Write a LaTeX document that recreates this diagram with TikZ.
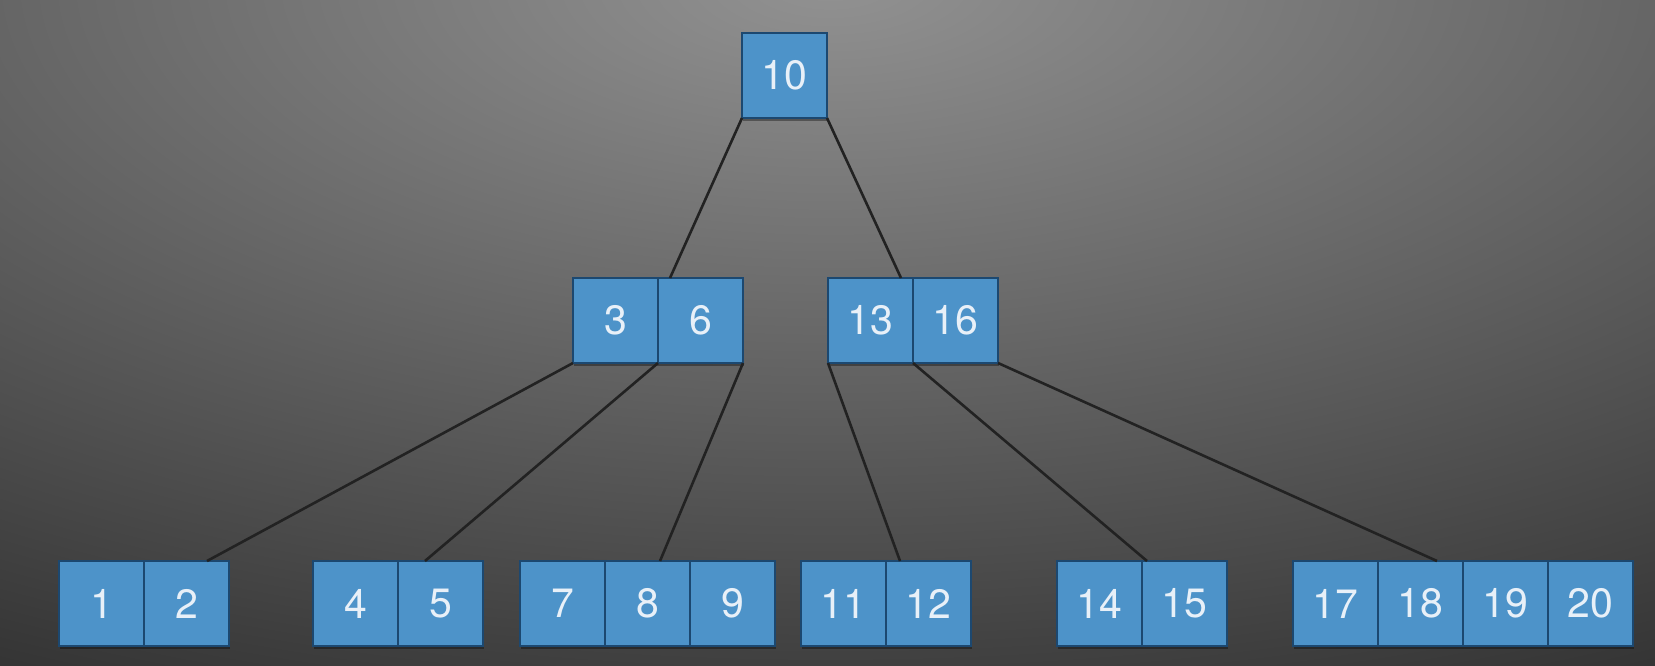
\documentclass[tikz,border=0pt]{standalone}
\usepackage{fontspec}
\setmainfont{TeX Gyre Heros}
\usetikzlibrary{calc,shadows}
\definecolor{bgin}{HTML}{929292}
\definecolor{bgout}{HTML}{2C2C2C}
\definecolor{cellfill}{HTML}{4D93C9}
\definecolor{celledge}{HTML}{1C4870}
\definecolor{celltext}{HTML}{E8F0F8}
\definecolor{linkcol}{HTML}{222222}
\tikzset{
  cell/.style={draw=celledge, line width=2.4pt, fill=cellfill,
    minimum width=85pt, minimum height=85pt, inner sep=0pt, outer sep=0pt,
    anchor=north west, text=celltext,
    font=\fontsize{41}{41}\selectfont,
    drop shadow={shadow xshift=1pt, shadow yshift=-3pt, opacity=0.35, fill=black}},
  link/.style={draw=linkcol, line width=2.6pt}
}
\begin{document}
\begin{tikzpicture}[x=1pt,y=1pt]
\useasboundingbox (0,0) rectangle (1655,-665);
\begin{scope}
  \clip (0,0) rectangle (1655,-665);
  \shade[inner color=bgin, outer color=bgout] (830,20) ellipse (1900 and 850);
\end{scope}
% root
\node[cell] (c10) at (742,-33) {10};
% middle
\node[cell] (c3) at (573,-278) {3};
\node[cell] (c6) at (658,-278) {6};
\node[cell] (c13) at (828,-278) {13};
\node[cell] (c16) at (913,-278) {16};
% leaves
\node[cell] (c1) at (59,-561) {1};
\node[cell] (c2) at (144,-561) {2};
\node[cell] (c4) at (313,-561) {4};
\node[cell] (c5) at (398,-561) {5};
\node[cell] (c7) at (520,-561) {7};
\node[cell] (c8) at (605,-561) {8};
\node[cell] (c9) at (690,-561) {9};
\node[cell] (c11) at (801,-561) {11};
\node[cell] (c12) at (886,-561) {12};
\node[cell] (c14) at (1057,-561) {14};
\node[cell] (c15) at (1142,-561) {15};
\node[cell] (c17) at (1293,-561) {17};
\node[cell] (c18) at (1378,-561) {18};
\node[cell] (c19) at (1463,-561) {19};
\node[cell] (c20) at (1548,-561) {20};
% links
\draw[link] (c10.south west) -- ($(c6.north west)+(12,0)$);
\draw[link] (c10.south east) -- ($(c13.north east)+(-12,0)$);
\draw[link] (c3.south west) -- ($(c2.north east)+(-22,0)$);
\draw[link] (c3.south east) -- ($(c5.north west)+(27,0)$);
\draw[link] (c6.south east) -- ($(c8.north west)+(55,0)$);
\draw[link] (c13.south west) -- ($(c12.north west)+(14,0)$);
\draw[link] (c13.south east) -- ($(c15.north west)+(5,0)$);
\draw[link] (c16.south east) -- ($(c18.north west)+(59,0)$);
\end{tikzpicture}
\end{document}
